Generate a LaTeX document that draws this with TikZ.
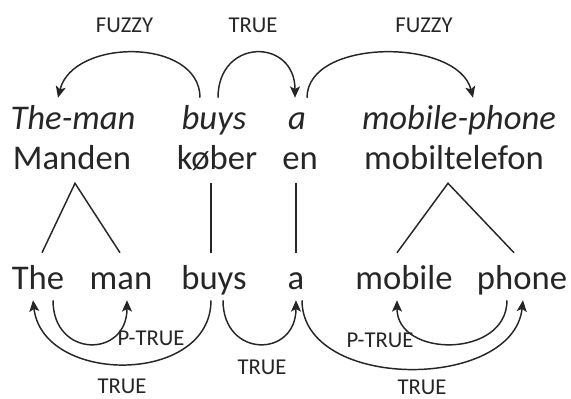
\documentclass[tikz,border=0pt]{standalone}
\usepackage{fontspec}
\setmainfont{Carlito}
\usetikzlibrary{arrows.meta}
\begin{document}
\begin{tikzpicture}[x=0.75pt,y=-0.75pt]

    \tikzset{
      word/.style={
        inner sep=0pt,
        anchor=base,
        text=black!85,
        font=\fontsize{26}{30}\selectfont,
      },
      gloss/.style={word, font=\fontsize{26}{30}\selectfont\itshape, text height=24pt},
      dan/.style={word, text depth=9.75pt},
      eng/.style={word, text height=27pt, text depth=8.25pt},
      lab/.style={inner sep=0pt, text=black!85, font=\fontsize{17}{20}\selectfont},
      branch/.style={draw=black!85, line width=1.1pt},
      arc/.style={branch, -{Stealth[length=8.5pt,width=7.5pt,inset=2pt]}},
    }
    \useasboundingbox (0,0) rectangle (571,399);

    % glosses
	\node[gloss] (theman) at (73,130) {The-man};
	\node[gloss] (buysI) at (214,130) {buys};
	\node[gloss] (aI) at (297,130) {a};
	\node[gloss] (mobphone) at (459,130) {mobile-phone};
    % danish
	\node[dan] (manden) at (72,170) {Manden};
	\node[dan] (kober) at (217,170) {køber};
	\node[dan] (en) at (300,170) {en};
	\node[dan] (mobtel) at (454,170) {mobiltelefon};
    % english
	\node[eng] (the) at (38,289) {The};
	\node[eng] (man) at (121,289) {man};
	\node[eng] (buys) at (214,289) {buys};
	\node[eng] (a) at (296,289) {a};
	\node[eng] (mobile) at (404,289) {mobile};
	\node[eng] (phone) at (522,289) {phone};

	\draw[branch] ([xshift=3pt]the.north) -- ([xshift=2.25pt]manden.south) -- ([xshift=-0.75pt]man.north);
	\draw[branch] ([xshift=-4.5pt]kober.south) -- ([xshift=-2.25pt]buys.north);
	\draw[branch] ([xshift=-3pt]en.south) -- (a.north);
	\draw[branch] ([xshift=-5.25pt]mobile.north) -- ([xshift=-4.5pt]mobtel.south) -- ([xshift=-6pt]phone.north);

	\draw[arc] ([xshift=-10.5pt]buysI.north) .. controls +(0,-60) and +(15,-60) .. ([xshift=-11.25pt]theman.north);
	\draw[arc] ([xshift=3pt]buysI.north) .. controls +(0,-60) and +(0,-60) .. ([xshift=-1.5pt]aI.north);
	\draw[arc] ([xshift=7.5pt]aI.north) .. controls +(0,-60) and +(-15,-60) .. ([xshift=10.5pt]mobphone.north);

	\draw[arc] ([xshift=11.25pt]the.south) .. controls +(0,58) and +(0,58) .. ([xshift=4.5pt]man.south);
	\draw[arc] ([xshift=-2.25pt]buys.south) .. controls +(0,85) and +(10,85) .. ([xshift=-3.75pt]the.south);
	\draw[arc] ([xshift=6.75pt]buys.south) .. controls +(0,58) and +(0,58) .. (a.south);
	\draw[arc] ([xshift=-11.25pt]phone.south) .. controls +(0,58) and +(0,58) .. ([xshift=-5.25pt]mobile.south);
	\draw[arc] ([xshift=4.5pt]a.south) .. controls +(0,91) and +(-10,91) .. ([xshift=0.75pt]phone.south);

	\node[lab] (fuzzyL) at (124.5,25.5) {FUZZY};
	\node[lab] (trueT) at (253,25.5) {TRUE};
	\node[lab] (fuzzyR) at (424,25.5) {FUZZY};
	\node[lab] (ptrueL) at (151,338) {P-TRUE};
	\node[lab] (trueBL) at (122,386.5) {TRUE};
	\node[lab] (trueM) at (262,367.5) {TRUE};
	\node[lab] (ptrueR) at (380,340.5) {P-TRUE};
	\node[lab] (trueBR) at (422,387.5) {TRUE};

\end{tikzpicture}
\end{document}
